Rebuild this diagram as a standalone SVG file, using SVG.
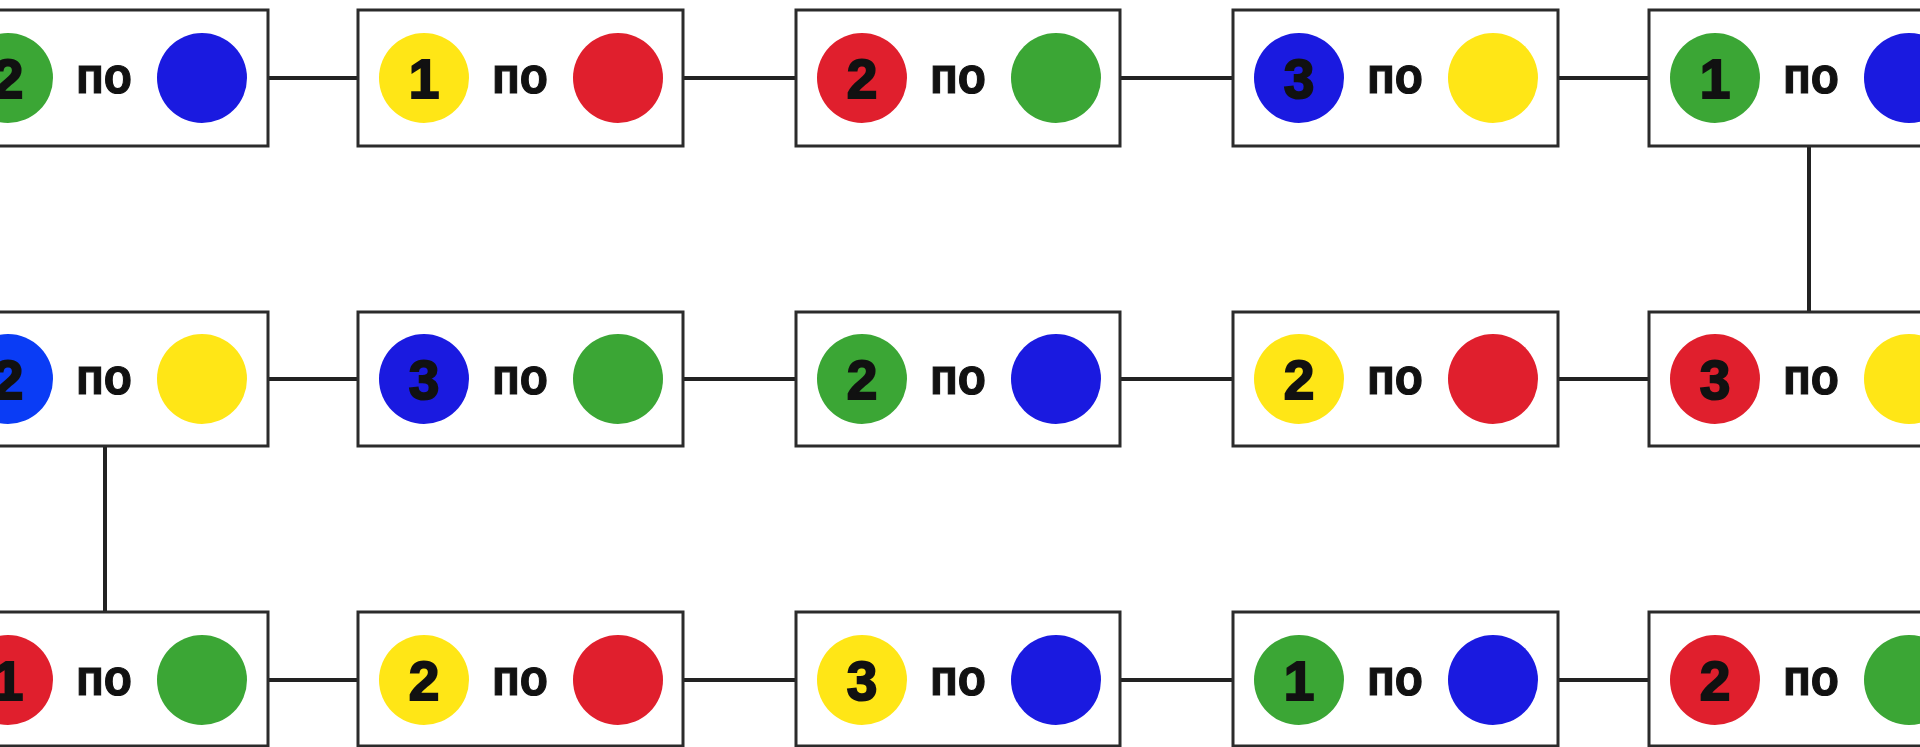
<svg xmlns="http://www.w3.org/2000/svg" width="1920" height="747" viewBox="0 0 1920 747">
<style>
.box{fill:#fff;stroke:#2b2b2b;stroke-width:3}
.con{stroke:#222;stroke-width:4;fill:none}
.num{font-family:"Liberation Sans",Arial,sans-serif;font-weight:bold;font-size:55px;fill:#111;stroke:#111;stroke-width:2;text-anchor:middle}
.po{font-family:"Liberation Sans",Arial,sans-serif;font-weight:bold;font-size:52px;fill:#111;stroke:#111;stroke-width:1.2}
.g{fill:#3ba635}.b{fill:#1a1ae0}.bb{fill:#0a3cf5}.r{fill:#e01f2d}.y{fill:#ffe616}
</style>
<rect width="1920" height="747" fill="#fff"/>
<g id="connectors">
<line class="con" x1="268" y1="78" x2="358" y2="78"/>
<line class="con" x1="683" y1="78" x2="796" y2="78"/>
<line class="con" x1="1120" y1="78" x2="1233" y2="78"/>
<line class="con" x1="1558" y1="78" x2="1649" y2="78"/>
<line class="con" x1="1809" y1="146" x2="1809" y2="312"/>
<line class="con" x1="268" y1="379" x2="358" y2="379"/>
<line class="con" x1="683" y1="379" x2="796" y2="379"/>
<line class="con" x1="1120" y1="379" x2="1233" y2="379"/>
<line class="con" x1="1558" y1="379" x2="1649" y2="379"/>
<line class="con" x1="105" y1="446" x2="105" y2="612"/>
<line class="con" x1="268" y1="680" x2="358" y2="680"/>
<line class="con" x1="683" y1="680" x2="796" y2="680"/>
<line class="con" x1="1120" y1="680" x2="1233" y2="680"/>
<line class="con" x1="1558" y1="680" x2="1649" y2="680"/>
</g>
<!-- Row 1 -->
<g id="n-r1c0" transform="translate(-58,10)"><rect class="box" x="0" y="0" width="326" height="136"/><circle class="g" cx="66" cy="68" r="45"/><text class="num" x="66" y="88">2</text><text class="po" x="134" y="83" textLength="56" lengthAdjust="spacingAndGlyphs">по</text><circle class="b" cx="260" cy="68" r="45"/></g>
<g id="n-r1c1" transform="translate(358,10)"><rect class="box" x="0" y="0" width="325" height="136"/><circle class="y" cx="66" cy="68" r="45"/><text class="num" x="66" y="88">1</text><text class="po" x="134" y="83" textLength="56" lengthAdjust="spacingAndGlyphs">по</text><circle class="r" cx="260" cy="68" r="45"/></g>
<g id="n-r1c2" transform="translate(796,10)"><rect class="box" x="0" y="0" width="324" height="136"/><circle class="r" cx="66" cy="68" r="45"/><text class="num" x="66" y="88">2</text><text class="po" x="134" y="83" textLength="56" lengthAdjust="spacingAndGlyphs">по</text><circle class="g" cx="260" cy="68" r="45"/></g>
<g id="n-r1c3" transform="translate(1233,10)"><rect class="box" x="0" y="0" width="325" height="136"/><circle class="b" cx="66" cy="68" r="45"/><text class="num" x="66" y="88">3</text><text class="po" x="134" y="83" textLength="56" lengthAdjust="spacingAndGlyphs">по</text><circle class="y" cx="260" cy="68" r="45"/></g>
<g id="n-r1c4" transform="translate(1649,10)"><rect class="box" x="0" y="0" width="325" height="136"/><circle class="g" cx="66" cy="68" r="45"/><text class="num" x="66" y="88">1</text><text class="po" x="134" y="83" textLength="56" lengthAdjust="spacingAndGlyphs">по</text><circle class="b" cx="260" cy="68" r="45"/></g>
<!-- Row 2 -->
<g id="n-r2c0" transform="translate(-58,312)"><rect class="box" x="0" y="0" width="326" height="134"/><circle class="bb" cx="66" cy="67" r="45"/><text class="num" x="66" y="87">2</text><text class="po" x="134" y="82" textLength="56" lengthAdjust="spacingAndGlyphs">по</text><circle class="y" cx="260" cy="67" r="45"/></g>
<g id="n-r2c1" transform="translate(358,312)"><rect class="box" x="0" y="0" width="325" height="134"/><circle class="b" cx="66" cy="67" r="45"/><text class="num" x="66" y="87">3</text><text class="po" x="134" y="82" textLength="56" lengthAdjust="spacingAndGlyphs">по</text><circle class="g" cx="260" cy="67" r="45"/></g>
<g id="n-r2c2" transform="translate(796,312)"><rect class="box" x="0" y="0" width="324" height="134"/><circle class="g" cx="66" cy="67" r="45"/><text class="num" x="66" y="87">2</text><text class="po" x="134" y="82" textLength="56" lengthAdjust="spacingAndGlyphs">по</text><circle class="b" cx="260" cy="67" r="45"/></g>
<g id="n-r2c3" transform="translate(1233,312)"><rect class="box" x="0" y="0" width="325" height="134"/><circle class="y" cx="66" cy="67" r="45"/><text class="num" x="66" y="87">2</text><text class="po" x="134" y="82" textLength="56" lengthAdjust="spacingAndGlyphs">по</text><circle class="r" cx="260" cy="67" r="45"/></g>
<g id="n-r2c4" transform="translate(1649,312)"><rect class="box" x="0" y="0" width="325" height="134"/><circle class="r" cx="66" cy="67" r="45"/><text class="num" x="66" y="87">3</text><text class="po" x="134" y="82" textLength="56" lengthAdjust="spacingAndGlyphs">по</text><circle class="y" cx="260" cy="67" r="45"/></g>
<!-- Row 3 -->
<g id="n-r3c0" transform="translate(-58,612)"><rect class="box" x="0" y="0" width="326" height="134"/><circle class="r" cx="66" cy="68" r="45"/><text class="num" x="66" y="88">1</text><text class="po" x="134" y="83" textLength="56" lengthAdjust="spacingAndGlyphs">по</text><circle class="g" cx="260" cy="68" r="45"/></g>
<g id="n-r3c1" transform="translate(358,612)"><rect class="box" x="0" y="0" width="325" height="134"/><circle class="y" cx="66" cy="68" r="45"/><text class="num" x="66" y="88">2</text><text class="po" x="134" y="83" textLength="56" lengthAdjust="spacingAndGlyphs">по</text><circle class="r" cx="260" cy="68" r="45"/></g>
<g id="n-r3c2" transform="translate(796,612)"><rect class="box" x="0" y="0" width="324" height="134"/><circle class="y" cx="66" cy="68" r="45"/><text class="num" x="66" y="88">3</text><text class="po" x="134" y="83" textLength="56" lengthAdjust="spacingAndGlyphs">по</text><circle class="b" cx="260" cy="68" r="45"/></g>
<g id="n-r3c3" transform="translate(1233,612)"><rect class="box" x="0" y="0" width="325" height="134"/><circle class="g" cx="66" cy="68" r="45"/><text class="num" x="66" y="88">1</text><text class="po" x="134" y="83" textLength="56" lengthAdjust="spacingAndGlyphs">по</text><circle class="b" cx="260" cy="68" r="45"/></g>
<g id="n-r3c4" transform="translate(1649,612)"><rect class="box" x="0" y="0" width="325" height="134"/><circle class="r" cx="66" cy="68" r="45"/><text class="num" x="66" y="88">2</text><text class="po" x="134" y="83" textLength="56" lengthAdjust="spacingAndGlyphs">по</text><circle class="g" cx="260" cy="68" r="45"/></g>
</svg>
